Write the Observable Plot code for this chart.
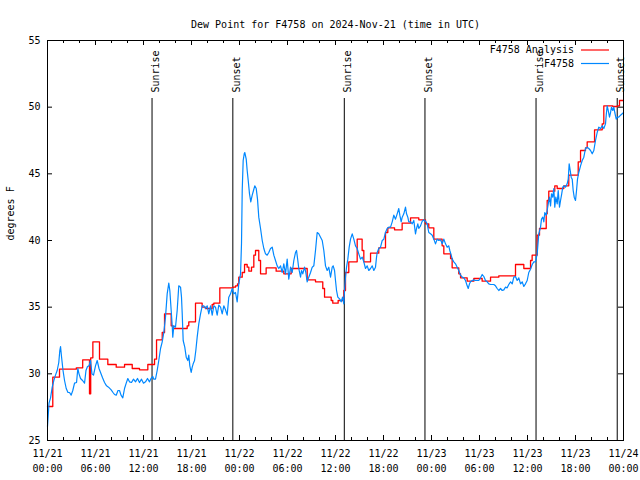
<!DOCTYPE html>
<html><head><meta charset="utf-8">
<script src="https://cdn.jsdelivr.net/npm/d3@7"></script>
<script src="https://cdn.jsdelivr.net/npm/@observablehq/plot@0.6"></script>
<style>body{margin:0;background:#fff} svg{display:block}</style>
</head><body><div id="chart"></div>
<script>
const title = "Dew Point for F4758 on 2024-Nov-21 (time in UTC)";
const startTime = "2024-11-21T00:00:00Z";
const endTime = "2024-11-24T00:00:00Z";
const yLabel = "degrees F";
const yTicks = [25, 30, 35, 40, 45, 50, 55];
const seriesNames = ["F4758 Analysis", "F4758"];
const seriesColors = ["#ff0000", "#0088ff"];
const sunLabels = ["Sunrise", "Sunset", "Sunrise", "Sunset", "Sunrise", "Sunset"];
const sunTimes = ["2024-11-21T13:04Z", "2024-11-21T23:10Z", "2024-11-22T13:06Z", "2024-11-22T23:11Z", "2024-11-23T13:04Z", "2024-11-23T23:13Z"];

// [hours since 11/21 00:00 UTC, dew point °F]
const analysisSeries = [
[0,27.55],[0.66,29.75],[1.5,30.35],[3.6,30.45],[4.4,31.05],[5.25,28.5],[5.4,31.2],[5.67,32.4],[6.5,31.1],[7.54,30.7],
[8.59,30.5],[9.63,30.7],[10.59,30.4],[11.5,30.3],[12.54,30.7],[13.38,31.1],[13.63,32.55],[14.34,33.1],[14.63,34.5],[15.46,33.6],
[15.71,33.4],[17.46,33.6],[17.66,33.9],[18.5,35.3],[19.33,35.0],[19.75,34.9],[20.58,35.2],[20.79,35.3],[21.54,36.45],[23.2,36.5],
[23.5,36.6],[23.75,36.75],[23.91,37.25],[24.34,37.6],[24.63,38.2],[24.96,38.0],[25.17,37.7],[25.5,38.0],[25.79,38.9],[26.0,39.25],
[26.41,38.5],[26.63,37.5],[27.33,37.95],[28.58,37.7],[29.54,37.5],[30.46,37.9],[32.46,37.05],[33.5,36.9],[34.41,36.4],[34.63,35.75],
[35.46,35.5],[35.66,35.3],[36.33,35.5],[37.04,36.25],[37.25,37.6],[37.66,38.4],[38.71,40.1],[39.33,39.25],[39.54,38.4],[40.38,39.05],
[41.41,39.45],[42.25,40.6],[42.54,40.95],[43.38,40.8],[44.33,41.3],[45.38,41.7],[46.41,41.55],[47.25,41.25],[47.66,40.95],[48.29,40.1],
[49.33,39.6],[49.54,39.0],[50.38,38.65],[50.58,37.95],[51.41,37.5],[51.63,37.2],[52.46,36.95],[53.29,37.15],[54.33,36.95],[55.38,37.25],
[56.41,37.35],[58.5,38.2],[59.54,37.9],[60.38,38.5],[60.58,38.9],[61.21,40.4],[61.5,40.9],[62.34,42.0],[62.46,43.0],[62.66,43.7],
[63.41,44.1],[63.71,43.9],[64.54,44.1],[65.16,44.9],[66.34,45.9],[66.63,46.75],[67.25,46.95],[67.46,47.4],[68.38,48.3],[69.34,48.75],
[69.54,50.1],[70.66,50.05],[71.21,50.1],[71.5,50.5],[72,50.5]
];

const stationSeries = [
[0.0,26.05],[0.19,27.8],[0.38,28.2],[0.59,29.0],[0.79,29.5],[1.0,29.9],[1.21,30.25],[1.41,30.85],[1.54,31.75],[1.63,32.05],
[1.75,31.3],[1.94,30.25],[2.13,29.5],[2.34,28.9],[2.56,28.6],[2.75,28.6],[2.96,28.4],[3.16,28.75],[3.38,29.3],[3.63,29.35],
[3.79,30.4],[3.94,30.0],[4.13,29.65],[4.38,29.5],[4.63,29.3],[4.81,30.25],[5.0,30.55],[5.19,30.6],[5.38,31.0],[5.56,30.0],
[5.75,29.9],[6.0,30.6],[6.21,31.0],[6.44,30.4],[6.63,30.1],[6.88,29.7],[7.13,29.35],[7.38,29.1],[7.63,29.0],[7.96,28.8],
[8.19,28.6],[8.38,28.45],[8.59,28.4],[8.81,28.75],[9.0,28.75],[9.19,28.4],[9.41,28.2],[9.63,28.9],[9.84,29.3],[10.04,29.65],
[10.25,29.4],[10.5,29.35],[10.75,29.6],[11.0,29.4],[11.25,29.65],[11.5,29.35],[11.75,29.6],[12.0,29.3],[12.25,29.4],[12.5,29.65],
[12.75,29.4],[12.94,29.65],[13.16,29.8],[13.29,29.6],[13.5,29.6],[13.71,30.25],[13.91,31.0],[14.13,31.9],[14.34,32.4],[14.54,33.1],
[14.75,34.25],[14.96,36.0],[15.16,36.8],[15.29,36.25],[15.46,34.75],[15.59,33.6],[15.66,32.75],[15.79,33.6],[16.0,33.5],[16.21,34.75],
[16.41,36.6],[16.63,36.5],[16.75,35.75],[16.84,34.5],[16.96,32.5],[17.16,32.0],[17.34,31.25],[17.54,31.0],[17.66,31.4],[17.79,30.6],
[17.96,30.1],[18.09,30.5],[18.21,30.75],[18.38,31.0],[18.54,31.75],[18.71,32.75],[18.91,33.75],[19.13,34.5],[19.34,35.1],[19.54,35.1],
[19.75,34.9],[19.96,35.1],[20.16,34.5],[20.38,35.1],[20.59,34.4],[20.79,35.1],[21.0,35.0],[21.21,34.4],[21.41,35.15],[21.63,35.0],
[21.84,34.5],[22.04,35.1],[22.25,34.8],[22.46,34.4],[22.66,35.75],[22.88,36.0],[23.09,36.4],[23.29,36.0],[23.5,36.1],[23.71,35.4],
[23.91,36.75],[24.13,37.5],[24.25,39.75],[24.34,43.75],[24.46,46.0],[24.59,46.5],[24.66,46.6],[24.84,46.1],[24.96,45.25],[25.09,44.5],
[25.25,43.5],[25.41,42.9],[25.59,43.4],[25.75,43.75],[25.91,44.1],[26.09,43.9],[26.25,43.1],[26.41,41.75],[26.63,40.9],[26.84,40.0],
[27.04,39.4],[27.25,39.0],[27.46,38.9],[27.66,39.1],[27.88,39.4],[28.09,39.5],[28.29,38.9],[28.5,38.5],[28.71,38.1],[28.91,37.9],
[29.13,38.1],[29.34,37.6],[29.54,38.25],[29.75,37.5],[29.96,38.6],[30.16,37.1],[30.38,38.0],[30.59,37.6],[30.79,38.5],[31.0,39.1],
[31.13,39.25],[31.29,38.5],[31.41,37.9],[31.63,37.25],[31.75,37.75],[31.91,37.5],[32.13,38.0],[32.29,37.6],[32.46,36.9],[32.66,37.25],
[32.88,37.6],[33.09,38.0],[33.29,38.1],[33.5,39.25],[33.71,40.6],[33.91,40.5],[34.13,40.25],[34.34,40.0],[34.54,39.25],[34.75,38.1],
[34.96,37.75],[35.16,38.0],[35.38,37.25],[35.59,38.0],[35.71,38.1],[35.88,37.75],[36.0,37.0],[36.13,36.25],[36.29,35.75],[36.54,35.6],
[36.71,35.4],[36.88,35.75],[37.04,35.25],[37.13,36.25],[37.25,37.25],[37.38,38.0],[37.54,38.6],[37.71,39.5],[37.88,40.1],[38.09,40.5],
[38.29,40.1],[38.5,39.6],[38.71,39.4],[38.91,39.0],[39.13,38.6],[39.34,38.75],[39.54,38.4],[39.75,37.9],[39.96,38.1],[40.16,37.75],
[40.38,37.9],[40.59,38.1],[40.79,37.75],[41.0,38.0],[41.13,38.75],[41.21,39.1],[41.41,39.4],[41.63,39.5],[41.84,40.0],[42.04,40.1],
[42.25,40.6],[42.46,40.9],[42.66,41.0],[42.88,41.0],[43.09,41.4],[43.29,41.9],[43.5,41.6],[43.71,42.0],[43.91,42.4],[44.04,41.9],
[44.21,41.4],[44.34,41.75],[44.54,42.0],[44.75,42.5],[44.88,42.0],[45.04,41.75],[45.16,41.4],[45.38,41.4],[45.59,41.25],[45.79,41.5],
[46.0,40.5],[46.13,40.9],[46.29,41.25],[46.41,40.9],[46.63,41.1],[46.84,41.45],[47.04,41.55],[47.25,41.45],[47.46,41.25],[47.66,40.6],
[47.88,40.5],[48.09,40.4],[48.29,40.1],[48.5,39.75],[48.71,40.1],[48.91,40.0],[49.13,40.05],[49.34,39.75],[49.54,40.1],[49.75,39.75],
[49.96,39.5],[50.16,39.6],[50.29,39.25],[50.46,38.9],[50.59,38.6],[50.79,38.4],[51.0,38.25],[51.21,38.0],[51.41,37.75],[51.63,37.4],
[51.84,37.25],[52.04,37.2],[52.25,37.0],[52.46,36.6],[52.59,36.4],[52.75,36.75],[52.88,36.9],[53.09,37.0],[53.29,37.05],[53.5,37.0],
[53.71,37.0],[53.91,37.0],[54.13,37.2],[54.34,37.45],[54.54,37.3],[54.75,37.0],[54.96,36.9],[55.16,36.75],[55.38,36.7],[55.59,36.7],
[55.79,36.7],[56.0,36.6],[56.21,36.4],[56.41,36.25],[56.63,36.4],[56.84,36.25],[57.04,36.3],[57.25,36.5],[57.46,36.45],[57.66,36.7],
[57.88,36.9],[58.09,36.75],[58.29,37.25],[58.5,37.3],[58.71,37.0],[58.91,37.2],[59.13,36.75],[59.34,36.9],[59.54,36.55],[59.75,36.75],
[59.96,37.0],[60.16,37.6],[60.38,37.85],[60.59,38.2],[60.79,38.4],[61.0,38.4],[61.21,39.0],[61.41,40.5],[61.63,41.0],[61.75,41.6],
[61.91,41.75],[62.04,41.4],[62.16,42.1],[62.34,41.9],[62.46,42.25],[62.59,42.75],[62.75,43.25],[62.88,42.6],[63.0,43.5],[63.16,43.25],
[63.29,43.9],[63.41,42.5],[63.54,43.25],[63.71,42.75],[63.84,43.75],[64.0,42.5],[64.13,43.0],[64.25,43.4],[64.41,44.0],[64.54,44.1],
[64.75,44.0],[64.96,44.25],[65.09,44.6],[65.21,45.75],[65.34,45.25],[65.46,44.75],[65.59,44.6],[65.71,43.75],[65.84,43.25],[66.0,43.0],
[66.13,43.75],[66.25,44.6],[66.41,45.1],[66.63,45.6],[66.84,46.0],[67.04,46.25],[67.25,46.9],[67.46,47.0],[67.66,46.9],[67.88,46.75],
[68.09,46.5],[68.29,46.75],[68.5,47.5],[68.71,48.1],[68.91,48.5],[69.13,48.4],[69.34,48.6],[69.54,48.4],[69.75,48.75],[69.84,49.4],
[69.96,50.1],[70.09,49.75],[70.25,49.25],[70.38,49.6],[70.5,50.0],[70.66,49.75],[70.79,50.0],[70.91,49.6],[71.09,49.1],[71.21,49.25],
[71.41,49.25],[71.63,49.4],[71.84,49.5],[72.0,49.6]
];

const t0 = Date.parse(startTime);
const toDate = h => new Date(t0 + h * 3600e3);
const analysis = analysisSeries.map(([h, v]) => ({time: toDate(h), dew: v}));
const station = stationSeries.map(([h, v]) => ({time: toDate(h), dew: v}));
const sunData = sunLabels.map((label, i) => ({label, time: new Date(sunTimes[i])}));
const xStart = new Date(startTime), xEnd = new Date(endTime);
const majorTicks = d3.utcHour.every(6).range(xStart, new Date(+xEnd + 1));
const minorTicks = d3.utcHour.every(2).range(xStart, new Date(+xEnd + 1));
const fmt = d3.utcFormat("%m/%d\n%H:%M");

const W = 640, H = 480, mt = 40, mr = 17, mb = 40, ml = 47;
const fw = W - ml - mr, fh = H - mt - mb;

function legendMark(index, scales, values, dims) {
  const g = d3.create("svg:g");
  const x2 = dims.width - dims.marginRight - 14;
  const x1 = x2 - 28;
  seriesNames.forEach((name, i) => {
    const y = dims.marginTop + 10 + i * 13.5;
    g.append("line").attr("x1", x1).attr("x2", x2).attr("y1", y).attr("y2", y)
      .attr("stroke", seriesColors[i]).attr("stroke-width", 1.2);
    g.append("text").attr("x", x1 - 7).attr("y", y).attr("dy", "0.32em")
      .attr("text-anchor", "end").attr("fill", "black").text(name);
  });
  return g.node();
}

const chart = Plot.plot({
  width: W, height: H,
  marginTop: mt, marginRight: mr, marginBottom: mb, marginLeft: ml,
  style: {fontFamily: "DejaVu Sans Mono", fontSize: "10px", background: "white", color: "black"},
  x: {type: "utc", domain: [xStart, xEnd]},
  y: {domain: [25, 55]},
  marks: [
    Plot.ruleX(sunData, {x: "time", insetTop: 58, stroke: "black", strokeWidth: 1}),
    Plot.text(sunData, {x: "time", text: "label", frameAnchor: "top", dy: 52, rotate: -90, textAnchor: "start", fill: "black"}),
    Plot.line(analysis, {x: "time", y: "dew", stroke: seriesColors[0], strokeWidth: 1.3, curve: "step-after"}),
    Plot.line(station, {x: "time", y: "dew", stroke: seriesColors[1], strokeWidth: 1.2}),
    Plot.ruleX(minorTicks, {x: d => d, insetTop: fh - 3, stroke: "black"}),
    Plot.ruleX(majorTicks, {x: d => d, insetTop: fh - 5, stroke: "black"}),
    Plot.ruleX(minorTicks, {x: d => d, insetBottom: fh - 3, stroke: "black"}),
    Plot.ruleX(majorTicks, {x: d => d, insetBottom: fh - 5, stroke: "black"}),
    Plot.ruleY(yTicks, {y: d => d, insetRight: fw - 5, stroke: "black"}),
    Plot.ruleY(yTicks, {y: d => d, insetLeft: fw - 5, stroke: "black"}),
    Plot.frame({stroke: "black"}),
    Plot.axisX(majorTicks, {tickSize: 0, tickPadding: 6, tickFormat: fmt, lineHeight: 1.5, label: null}),
    Plot.axisY(yTicks, {tickSize: 0, tickPadding: 7, label: null}),
    Plot.text([title], {frameAnchor: "top", dy: -20, fill: "black"}),
    Plot.text([yLabel], {frameAnchor: "left", dx: -37, rotate: -90, fill: "black"}),
    legendMark
  ]
});
document.getElementById("chart").appendChild(chart);
</script>
</body></html>
